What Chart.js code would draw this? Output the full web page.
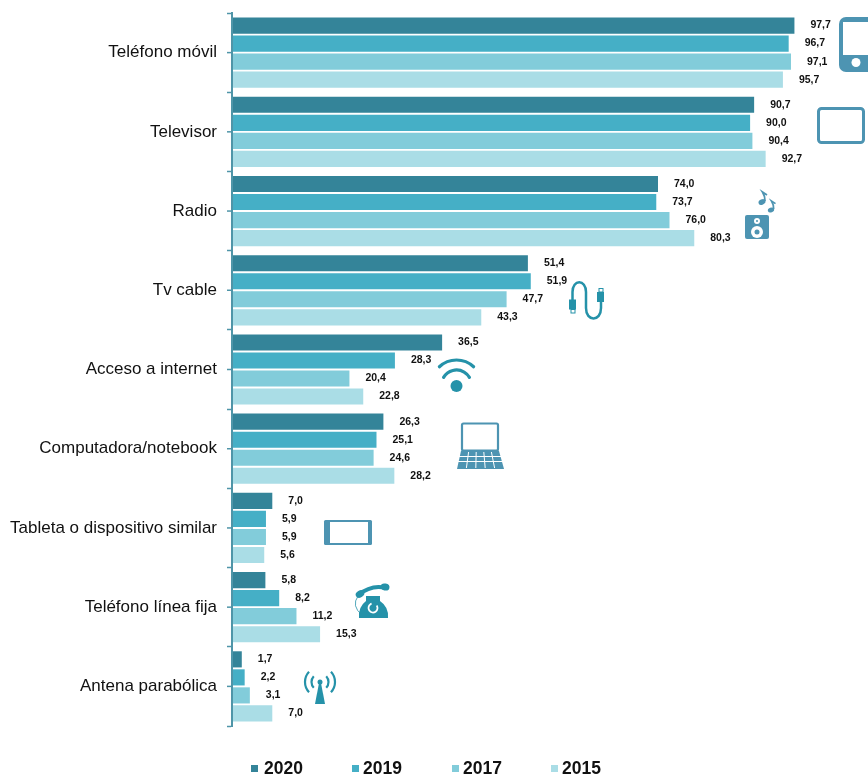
<!DOCTYPE html>
<html>
<head>
<meta charset="utf-8">
<style>
  html, body { margin: 0; padding: 0; background: #fff; }
  canvas { display: block; }
</style>
<script src="https://cdn.jsdelivr.net/npm/chart.js@4"></script>
</head>
<body>
<canvas id="chart" width="868" height="776"></canvas>
<script>
const categories = ['Teléfono móvil', 'Televisor', 'Radio', 'Tv cable', 'Acceso a internet',
    'Computadora/notebook', 'Tableta o dispositivo similar', 'Teléfono línea fija', 'Antena parabólica'];
const years = ['2020', '2019', '2017', '2015'];
const values2020 = [97.7, 90.7, 74.0, 51.4, 36.5, 26.3, 7.0, 5.8, 1.7];
const values2019 = [96.7, 90.0, 73.7, 51.9, 28.3, 25.1, 5.9, 8.2, 2.2];
const values2017 = [97.1, 90.4, 76.0, 47.7, 20.4, 24.6, 5.9, 11.2, 3.1];
const values2015 = [95.7, 92.7, 80.3, 43.3, 22.8, 28.2, 5.6, 15.3, 7.0];
const colors = ['#348499', '#45AFC6', '#82CCDA', '#AADDE6'];

const AXIS_COLOR = '#4f95a8';
const ICON_BLUE = '#4d94b2';
const ICON_TEAL = '#2592a9';

// Value labels at the end of each bar
const barLabels = {
    id: 'barLabels',
    afterDatasetsDraw(chart) {
        const ctx = chart.ctx;
        ctx.save();
        ctx.font = 'bold 10.5px "Liberation Sans"';
        ctx.fillStyle = '#111';
        ctx.textAlign = 'left';
        ctx.textBaseline = 'middle';
        chart.data.datasets.forEach((ds, i) => {
            chart.getDatasetMeta(i).data.forEach((bar, j) => {
                ctx.fillText(ds.data[j].toFixed(1).replace('.', ','), bar.x + 16, bar.y);
            });
        });
        ctx.restore();
    }
};

// The axis has a second tick in the middle of each category
const middleTicks = {
    id: 'middleTicks',
    afterDraw(chart) {
        const ctx = chart.ctx;
        const scale = chart.scales.y;
        ctx.save();
        ctx.strokeStyle = AXIS_COLOR;
        ctx.lineWidth = 1.5;
        categories.forEach((c, i) => {
            const y = scale.getPixelForValue(i);
            ctx.beginPath();
            ctx.moveTo(scale.right - 5, y);
            ctx.lineTo(scale.right, y);
            ctx.stroke();
        });
        ctx.restore();
    }
};

// Legend below the plot, drawn from the datasets
const legendRow = {
    id: 'legendRow',
    afterDraw(chart) {
        const ctx = chart.ctx;
        const markerX = [251, 352, 452, 551];
        const textX = [264, 363, 463, 562];
        ctx.save();
        ctx.font = 'bold 17.5px "Liberation Sans"';
        ctx.textBaseline = 'middle';
        chart.data.datasets.forEach((ds, i) => {
            ctx.fillStyle = ds.backgroundColor;
            ctx.fillRect(markerX[i], 765, 7, 7);
            ctx.fillStyle = '#111';
            ctx.fillText(ds.label, textX[i], 769.5);
        });
        ctx.restore();
    }
};

function roundBox(ctx, x, y, w, h, r) {
    ctx.beginPath();
    ctx.roundRect(x, y, w, h, r);
}

function drawPhone(ctx) {
    ctx.fillStyle = ICON_BLUE;
    roundBox(ctx, 839, 17, 40, 55, 7);
    ctx.fill();
    ctx.fillStyle = '#fff';
    ctx.fillRect(843, 22, 30, 33);
    ctx.beginPath();
    ctx.arc(856, 62.5, 4.5, 0, Math.PI * 2);
    ctx.fill();
}

function drawTablet(ctx) {
    ctx.strokeStyle = ICON_BLUE;
    ctx.lineWidth = 3;
    roundBox(ctx, 818.5, 108.5, 45, 34, 3);
    ctx.stroke();
}

function drawNote(ctx, x, y, s) {
    ctx.beginPath();
    ctx.ellipse(x, y, 3.6 * s, 2.6 * s, -0.4, 0, Math.PI * 2);
    ctx.fill();
    ctx.lineWidth = 1.8 * s;
    ctx.beginPath();
    ctx.moveTo(x + 3 * s, y - 1);
    ctx.quadraticCurveTo(x + 3 * s, y - 6 * s, x + 0.5 * s, y - 10 * s);
    ctx.lineTo(x + 5 * s, y - 7 * s);
    ctx.stroke();
}

function drawSpeaker(ctx) {
    ctx.fillStyle = ICON_BLUE;
    ctx.strokeStyle = ICON_BLUE;
    roundBox(ctx, 745, 215, 24, 24, 2);
    ctx.fill();
    ctx.fillStyle = '#fff';
    ctx.beginPath();
    ctx.arc(757, 232, 6, 0, Math.PI * 2);
    ctx.fill();
    ctx.beginPath();
    ctx.arc(757, 221, 3, 0, Math.PI * 2);
    ctx.fill();
    ctx.fillStyle = ICON_BLUE;
    ctx.beginPath();
    ctx.arc(757, 232, 2.5, 0, Math.PI * 2);
    ctx.fill();
    ctx.beginPath();
    ctx.arc(757, 221, 1, 0, Math.PI * 2);
    ctx.fill();
    drawNote(ctx, 762, 202, 1);
    drawNote(ctx, 771, 210, 0.9);
}

function drawCable(ctx) {
    ctx.strokeStyle = ICON_TEAL;
    ctx.fillStyle = ICON_TEAL;
    ctx.lineWidth = 2.5;
    ctx.beginPath();
    ctx.moveTo(572.5, 300);
    ctx.lineTo(572.5, 292);
    ctx.bezierCurveTo(572.5, 279, 586, 279, 586, 292);
    ctx.lineTo(586, 308);
    ctx.bezierCurveTo(586, 322, 601, 322, 601, 308);
    ctx.lineTo(601, 301);
    ctx.stroke();
    ctx.fillRect(569, 299.5, 7, 10);
    ctx.fillRect(597, 292, 7, 10);
    ctx.lineWidth = 1;
    ctx.strokeRect(571, 309.5, 4, 3.5);
    ctx.strokeRect(599, 288.5, 4, 3.5);
}

function drawWifi(ctx) {
    ctx.strokeStyle = ICON_TEAL;
    ctx.fillStyle = ICON_TEAL;
    ctx.lineCap = 'round';
    ctx.lineWidth = 3.2;
    ctx.beginPath();
    ctx.arc(456.5, 385, 15, Math.PI * 1.17, Math.PI * 1.83);
    ctx.stroke();
    ctx.beginPath();
    ctx.arc(456.5, 385, 25, Math.PI * 1.26, Math.PI * 1.74);
    ctx.stroke();
    ctx.lineCap = 'butt';
    ctx.beginPath();
    ctx.arc(456.5, 386, 6, 0, Math.PI * 2);
    ctx.fill();
}

function drawLaptop(ctx) {
    ctx.strokeStyle = ICON_BLUE;
    ctx.fillStyle = ICON_BLUE;
    ctx.lineWidth = 2.2;
    roundBox(ctx, 462, 423.5, 36, 27, 1.5);
    ctx.stroke();
    ctx.beginPath();
    ctx.moveTo(461, 451);
    ctx.lineTo(499, 451);
    ctx.lineTo(504, 469);
    ctx.lineTo(457, 469);
    ctx.closePath();
    ctx.fill();
    ctx.strokeStyle = '#fff';
    ctx.lineWidth = 1;
    [456.5, 461.5].forEach(y => {
        ctx.beginPath();
        ctx.moveTo(458, y);
        ctx.lineTo(503, y);
        ctx.stroke();
    });
    for (let i = 1; i < 5; i++) {
        ctx.beginPath();
        ctx.moveTo(461 + i * 7.6, 452);
        ctx.lineTo(457 + i * 9.4, 468);
        ctx.stroke();
    }
}

function drawSmallTablet(ctx) {
    ctx.fillStyle = ICON_BLUE;
    roundBox(ctx, 324, 520, 48, 25, 1.5);
    ctx.fill();
    ctx.fillStyle = '#fff';
    ctx.fillRect(330, 522, 38, 21);
}

function drawLandline(ctx) {
    ctx.fillStyle = ICON_TEAL;
    ctx.strokeStyle = ICON_TEAL;
    // handset
    ctx.lineWidth = 4;
    ctx.beginPath();
    ctx.moveTo(358, 595);
    ctx.quadraticCurveTo(372, 584, 386, 588);
    ctx.stroke();
    ctx.beginPath();
    ctx.ellipse(360, 594, 4.5, 3.5, -0.5, 0, Math.PI * 2);
    ctx.fill();
    ctx.beginPath();
    ctx.ellipse(385, 587, 4.5, 3.5, 0.2, 0, Math.PI * 2);
    ctx.fill();
    // cord
    ctx.lineWidth = 0.8;
    ctx.beginPath();
    ctx.moveTo(358, 596);
    ctx.quadraticCurveTo(351, 606, 362, 615);
    ctx.stroke();
    // body
    ctx.beginPath();
    ctx.moveTo(359, 618);
    ctx.quadraticCurveTo(358, 607, 366, 601);
    ctx.lineTo(366, 596);
    ctx.lineTo(380, 596);
    ctx.lineTo(380, 601);
    ctx.quadraticCurveTo(389, 607, 388, 618);
    ctx.closePath();
    ctx.fill();
    ctx.strokeStyle = '#fff';
    ctx.lineWidth = 1.8;
    ctx.beginPath();
    ctx.arc(373, 608, 4.5, -0.6, Math.PI * 1.4);
    ctx.stroke();
}

function drawAntenna(ctx) {
    ctx.strokeStyle = ICON_TEAL;
    ctx.fillStyle = ICON_TEAL;
    ctx.lineWidth = 2.2;
    [8.5, 15].forEach(r => {
        ctx.beginPath();
        ctx.arc(320, 682, r, -0.75, 0.75);
        ctx.stroke();
        ctx.beginPath();
        ctx.arc(320, 682, r, Math.PI - 0.75, Math.PI + 0.75);
        ctx.stroke();
    });
    ctx.beginPath();
    ctx.arc(320, 682, 2.5, 0, Math.PI * 2);
    ctx.fill();
    ctx.beginPath();
    ctx.moveTo(319, 683);
    ctx.lineTo(321, 683);
    ctx.lineTo(325, 704);
    ctx.lineTo(315, 704);
    ctx.closePath();
    ctx.fill();
}

// Decorative pictograms next to the bars
const pictograms = {
    id: 'pictograms',
    afterDraw(chart) {
        const ctx = chart.ctx;
        [drawPhone, drawTablet, drawSpeaker, drawCable, drawWifi, drawLaptop,
            drawSmallTablet, drawLandline, drawAntenna].forEach(fn => {
            ctx.save();
            fn(ctx);
            ctx.restore();
        });
    }
};

new Chart(document.getElementById('chart').getContext('2d'), {
    type: 'bar',
    data: {
        labels: categories,
        datasets: [
            { label: years[0], data: values2020, backgroundColor: colors[0] },
            { label: years[1], data: values2019, backgroundColor: colors[1] },
            { label: years[2], data: values2017, backgroundColor: colors[2] },
            { label: years[3], data: values2015, backgroundColor: colors[3] }
        ]
    },
    options: {
        indexAxis: 'y',
        responsive: false,
        animation: false,
        layout: { padding: { top: 13, right: 16, bottom: 50, left: 0 } },
        categoryPercentage: 0.91,
        barPercentage: 0.895,
        plugins: {
            legend: { display: false },
            tooltip: { enabled: false }
        },
        scales: {
            x: {
                display: false,
                min: 0,
                max: 107.7
            },
            y: {
                afterFit(scale) {
                    scale.width = 232;
                    scale.paddingTop = 0;
                    scale.paddingBottom = 0;
                },
                border: { color: AXIS_COLOR, width: 2, z: 1 },
                grid: {
                    drawOnChartArea: false,
                    drawTicks: true,
                    tickLength: 5,
                    tickWidth: 1.5,
                    tickColor: AXIS_COLOR,
                    offset: true,
                    z: 1
                },
                ticks: {
                    autoSkip: false,
                    padding: 10,
                    color: '#111',
                    font: { family: '"Liberation Sans"', size: 17 }
                }
            }
        }
    },
    plugins: [barLabels, middleTicks, legendRow, pictograms]
});
</script>
</body>
</html>
